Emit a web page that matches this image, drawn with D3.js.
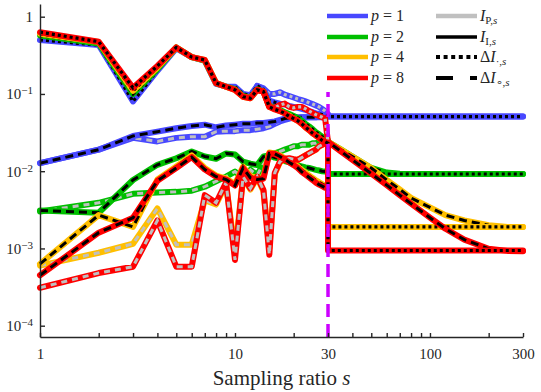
<!DOCTYPE html>
<html>
<head>
<meta charset="utf-8">
<script src="https://cdn.jsdelivr.net/npm/d3@7"></script>
<style>
  body { margin: 0; background: #fff; }
  svg text { font-family: "Liberation Serif", serif; fill: #262626; }
</style>
</head>
<body>
<div class="chart"></div>
<script>
const width = 541;
const height = 392;

// sampling ratios
const sPre = [1,2,3,4,5,6,7,8,9,10,11,12,13,14,15,16,17,18,19,20,21,22,23,24,25,26,27,28,29,30];
const sPost = [30,35,40,50,60,70,80,100,120,150,200,250,300];
const sTopGrey = [13,14,15,16,17,18,19,20,21,22,23,24,25,26,27,28,29,30];
const sFlat = [30, 300];

const pValues = [1, 2, 4, 8];

// Delta I_{.,s} (dotted), s = 1..30, then flat after the jump at s = 30
const dTop1 = [0.50,0.43,0.08,0.20,0.39,0.30,0.27,0.135,0.125,0.124,0.10,0.096,0.127,0.115,0.082,0.078,0.075,0.073,0.070,0.068,0.066,0.064,0.062,0.060,0.058,0.056,0.055,0.054,0.053,0.052];
const dTop2 = [0.57,0.45,0.10,0.21,0.40,0.30,0.27,0.138,0.124,0.115,0.094,0.089,0.115,0.108,0.070,0.066,0.062,0.058,0.055,0.052,0.049,0.045,0.041,0.038,0.035,0.032,0.030,0.028,0.026,0.025];
const dTop4 = [0.60,0.47,0.11,0.22,0.40,0.30,0.275,0.138,0.124,0.113,0.092,0.088,0.113,0.107,0.068,0.064,0.060,0.056,0.052,0.048,0.045,0.041,0.037,0.034,0.031,0.029,0.027,0.025,0.024,0.024];
const dTop8 = [0.63,0.475,0.12,0.23,0.40,0.30,0.275,0.138,0.124,0.113,0.092,0.088,0.113,0.107,0.068,0.063,0.060,0.056,0.051,0.048,0.045,0.041,0.037,0.034,0.031,0.029,0.027,0.025,0.024,0.023];
const dFlat = [0.051, 0.0092, 0.0019, 0.00094];

// upper grey-dotted branch, s = 13..30
const gTop1 = [0.127,0.118,0.100,0.100,0.105,0.098,0.094,0.090,0.086,0.083,0.080,0.077,0.074,0.071,0.068,0.064,0.060,0.055];
const gTop8 = [0.113,0.107,0.068,0.066,0.072,0.075,0.068,0.066,0.068,0.068,0.064,0.060,0.057,0.054,0.052,0.050,0.048,0.024];

// I_{I,s} (black dashed), s = 1..30 and s >= 30
const iI1 = [0.0127,0.019,0.0286,0.0325,0.036,0.0385,0.040,0.037,0.039,0.040,0.041,0.041,0.042,0.042,0.043,0.044,0.046,0.048,0.049,0.050,0.050,0.050,0.050,0.050,0.050,0.050,0.051,0.051,0.051,0.051];
const iI2 = [0.0031,0.0029,0.0077,0.0121,0.0147,0.018,0.0155,0.0145,0.017,0.0165,0.0133,0.0125,0.012,0.0155,0.016,0.015,0.0145,0.0135,0.013,0.0125,0.012,0.0115,0.0112,0.011,0.0107,0.0104,0.0102,0.010,0.0099,0.0098];
const iI4 = [0.00063,0.0027,0.0019,0.0078,0.0115,0.016,0.011,0.0088,0.008,0.0068,0.0115,0.0086,0.0082,0.0084,0.0175,0.017,0.016,0.0147,0.0135,0.0125,0.0115,0.0104,0.0096,0.0088,0.0082,0.0076,0.0072,0.0068,0.0065,0.0062];
const iI8 = [0.00045,0.0016,0.0025,0.0075,0.011,0.0152,0.0105,0.0085,0.0078,0.0065,0.011,0.0082,0.0078,0.008,0.017,0.0168,0.0155,0.0142,0.013,0.012,0.011,0.0098,0.009,0.0083,0.0077,0.0071,0.0067,0.0064,0.0061,0.0059];
const iIPost1 = [0.051,0.051,0.051,0.051,0.051,0.051,0.051,0.051,0.051,0.051,0.051,0.051,0.051];
const iIPost2 = [0.024,0.019,0.0155,0.011,0.0096,0.0093,0.0092,0.0092,0.0092,0.0092,0.0092,0.0092,0.0092];
const iIPost4 = [0.024,0.019,0.0155,0.011,0.0077,0.0058,0.0045,0.0034,0.0027,0.0023,0.0020,0.0019,0.0019];
const iIPost8 = [0.024,0.018,0.014,0.0093,0.0066,0.0049,0.0038,0.0025,0.0018,0.0013,0.00099,0.00093,0.00092];

// I_{P,s} (grey dashed), s = 1..29
const iP1 = [0.0127,0.019,0.027,0.0243,0.027,0.028,0.028,0.0325,0.033,0.033,0.034,0.034,0.035,0.036,0.038,0.041,0.044,0.046,0.048,0.049,0.049,0.050,0.050,0.050,0.050,0.050,0.050,0.050,0.050];
const iP2 = [0.0030,0.0039,0.0051,0.0053,0.0054,0.0056,0.0063,0.0074,0.0085,0.0099,0.0082,0.0104,0.0089,0.0127,0.0155,0.017,0.018,0.019,0.020,0.021,0.021,0.022,0.022,0.022,0.023,0.023,0.024,0.024,0.024];
const iP4 = [0.00060,0.00088,0.00115,0.0033,0.00112,0.00112,0.0042,0.0037,0.0068,0.0009,0.0082,0.0058,0.0082,0.0055,0.0010,0.0092,0.013,0.0142,0.0145,0.0142,0.014,0.015,0.016,0.017,0.018,0.019,0.021,0.022,0.023];
const iP8 = [0.00031,0.00048,0.00058,0.0023,0.00058,0.00058,0.0049,0.0039,0.0071,0.00071,0.0085,0.006,0.0085,0.0057,0.00083,0.0095,0.0133,0.0145,0.0147,0.0143,0.014,0.015,0.016,0.017,0.018,0.019,0.021,0.022,0.023];

const xTicks = [1,2,3,4,5,6,7,8,9,10,20,30,40,50,60,70,80,90,100,200,300];
const xLabels = [1, 10, 30, 100, 300];
const yTicks = [1, 0.1, 0.01, 0.001, 0.0001];
const yExp = [0, -1, -2, -3, -4];
const sCut = 30;

const colors = ["#4848ff", "#00bf00", "#ffbf00", "#ff0000"];
const grey = "#c0c0c0";
const font = "'Liberation Serif', serif";

const margin = {left: 40, right: 18, top: 4, bottom: 55};

const svg = d3.select(".chart").append("svg")
  .attr("width", width).attr("height", height)
  .attr("font-family", font);

const x = d3.scaleLog().domain([1, 300]).range([margin.left, width - margin.right]);
const y = d3.scaleLog().domain([7.14e-5, 1.46]).range([height - margin.bottom, margin.top]);

const line = d3.line().x(d => x(d[0])).y(d => y(d[1]));
const zip = (xs, ys) => ys.map((v, i) => [xs[i], v]);

const dTop = [dTop1, dTop2, dTop4, dTop8];
const gTop = [gTop1, null, null, gTop8];
const iI = [iI1, iI2, iI4, iI8];
const iIPost = [iIPost1, iIPost2, iIPost4, iIPost8];
const iP = [iP1, iP2, iP4, iP8];

const plot = svg.append("g");

function curve(pts, color, overlay, dash, ow) {
  plot.append("path").attr("d", line(pts))
    .attr("fill", "none").attr("stroke", color).attr("stroke-width", 6)
    .attr("stroke-linejoin", "round").attr("stroke-linecap", "round");
  plot.append("path").attr("d", line(pts))
    .attr("fill", "none").attr("stroke", overlay).attr("stroke-width", ow)
    .attr("stroke-dasharray", dash);
}

pValues.forEach((p, k) => {
  const c = colors[k];
  curve(zip(sPre, iP[k]), c, grey, "6,5", 3);
  curve(zip(sPre, iI[k]).concat(zip(sPost, iIPost[k])), c, "#000", "8,5", 3);
  if (gTop[k]) curve(zip(sTopGrey, gTop[k]), c, grey, "3,3", 3.2);
  curve(zip(sPre, dTop[k]).concat(zip(sFlat, [dFlat[k], dFlat[k]])), c, "#000", "3,3", 3.2);
});

// threshold line at s = 30
svg.append("line")
  .attr("x1", x(sCut)).attr("x2", x(sCut))
  .attr("y1", y.range()[1]).attr("y2", y.range()[0])
  .attr("stroke", "#cc00ff").attr("stroke-width", 3.5)
  .attr("stroke-dasharray", "13,7");

// axes
const xAxis = d3.axisBottom(x).tickValues(xTicks).tickSize(-4).tickSizeOuter(0).tickPadding(11)
  .tickFormat(d => xLabels.includes(d) ? d : "");
const gx = svg.append("g").attr("transform", `translate(0,${height - margin.bottom})`).call(xAxis);

const yAxis = d3.axisLeft(y).tickValues(yTicks).tickSize(-5).tickSizeOuter(0).tickPadding(7)
  .tickFormat("");
const gy = svg.append("g").attr("transform", `translate(${margin.left},0)`).call(yAxis);

[gx, gy].forEach(g => {
  g.attr("font-family", font).attr("font-size", 15);
  g.select(".domain").attr("stroke", "#262626").attr("stroke-width", 1.4);
  g.selectAll(".tick line").attr("stroke", "#262626").attr("stroke-width", 1.4);
  g.selectAll("text").attr("fill", "#262626");
});

gy.selectAll(".tick").each(function(d, i) {
  const t = d3.select(this).select("text");
  if (yExp[i] === 0) { t.text("1"); return; }
  t.append("tspan").text("10");
  t.append("tspan").attr("dy", "-0.45em").attr("font-size", 11).text("\u2212" + (-yExp[i]));
});

svg.append("text")
  .attr("x", (x(1) + x(300)) / 2).attr("y", 385)
  .attr("text-anchor", "middle").attr("font-size", 21)
  .call(t => {
    t.append("tspan").text("Sampling ratio ");
    t.append("tspan").attr("font-style", "italic").text("s");
  });

// legend
const legend = svg.append("g");
legend.append("rect").attr("x", 318).attr("y", 0).attr("width", width - 318).attr("height", 92).attr("fill", "#fff");

const rowY = [16, 37, 57, 78];
pValues.forEach((p, k) => {
  legend.append("line").attr("x1", 327).attr("x2", 368).attr("y1", rowY[k]).attr("y2", rowY[k])
    .attr("stroke", colors[k]).attr("stroke-width", 4.5);
  const t = legend.append("text").attr("x", 371).attr("y", rowY[k] + 5).attr("font-size", 16);
  t.append("tspan").attr("font-style", "italic").text("p");
  t.append("tspan").text(" = " + p);
});

const styleRows = [
  {stroke: grey, dash: null, pre: "", sub: "P", w: 4.5},
  {stroke: "#000", dash: null, pre: "", sub: "I", w: 3.5},
  {stroke: "#000", dash: "4,3.6", pre: "\u0394", sub: "\u00b7", w: 4},
  {stroke: "#000", dash: "17,17", pre: "\u0394", sub: "\u2218", w: 4}
];
styleRows.forEach((r, k) => {
  legend.append("line").attr("x1", 436).attr("x2", 477).attr("y1", rowY[k]).attr("y2", rowY[k])
    .attr("stroke", r.stroke).attr("stroke-width", r.w).attr("stroke-dasharray", r.dash);
  const t = legend.append("text").attr("x", 480).attr("y", rowY[k] + 5).attr("font-size", 16);
  if (r.pre) t.append("tspan").text(r.pre);
  t.append("tspan").attr("font-style", "italic").text("I");
  t.append("tspan").attr("font-size", 11).attr("dy", 3)
    .attr("font-family", r.sub === "\u2218" ? "'DejaVu Sans', sans-serif" : null).text(r.sub);
  t.append("tspan").attr("font-size", 11).text(",");
  t.append("tspan").attr("font-size", 11).attr("font-style", "italic").text("s");
});
</script>
</body>
</html>
